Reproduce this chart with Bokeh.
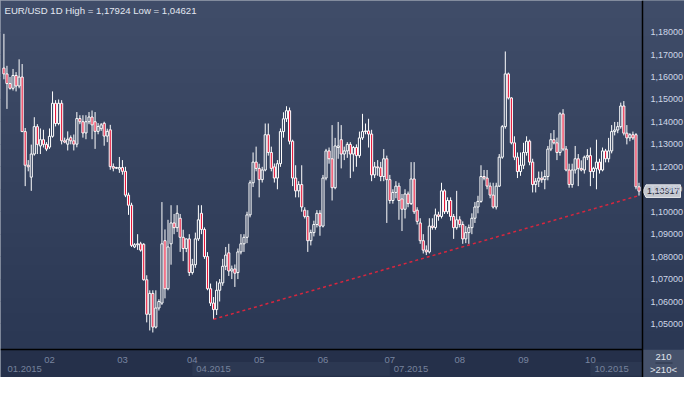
import numpy as np
from bokeh.plotting import figure
from bokeh.models import Range1d, FixedTicker, CustomJSTickFormatter
from bokeh.core.properties import value
from bokeh.embed import file_html
from bokeh.resources import INLINE

# ---------------- data (EUR/USD daily) ----------------
opens = [
    1.1640, 1.1614, 1.1571, 1.1550, 1.1607, 1.1560, 1.1600, 1.1357, 1.1207, 1.1154,
    1.1257, 1.1379, 1.1293, 1.1321, 1.1300, 1.1288, 1.1336, 1.1483, 1.1393, 1.1483,
    1.1316, 1.1301, 1.1330, 1.1316, 1.1301, 1.1415, 1.1401, 1.1351, 1.1401, 1.1422,
    1.1401, 1.1358, 1.1370, 1.1394, 1.1337, 1.1365, 1.1201, 1.1194, 1.1190, 1.1197,
    1.1180, 1.1074, 1.1029, 1.0843, 1.0853, 1.0857, 1.0855, 1.0697, 1.0543, 1.0636,
    1.0486, 1.0571, 1.0593, 1.0871, 1.0657, 1.0857, 1.0950, 1.0929, 1.0971, 1.0886,
    1.0836, 1.0879, 1.0729, 1.0764, 1.0879, 1.0993, 1.0921, 1.0800, 1.0657, 1.0593,
    1.0564, 1.0650, 1.0683, 1.0757, 1.0817, 1.0736, 1.0745, 1.0729, 1.0821, 1.0857,
    1.0886, 1.0986, 1.1129, 1.1221, 1.1193, 1.1143, 1.1186, 1.1343, 1.1264, 1.1200,
    1.1150, 1.1214, 1.1357, 1.1414, 1.1450, 1.1314, 1.1150, 1.1093, 1.1121, 1.1007,
    1.0979, 1.0871, 1.0907, 1.0943, 1.0993, 1.0936, 1.1150, 1.1271, 1.1236, 1.1107,
    1.1286, 1.1321, 1.1257, 1.1271, 1.1300, 1.1257, 1.1286, 1.1250, 1.1329, 1.1357,
    1.1360, 1.1346, 1.1164, 1.1200, 1.1196, 1.1157, 1.1236, 1.1143, 1.1050, 1.1086,
    1.1114, 1.1057, 1.1011, 1.1079, 1.1036, 1.1146, 1.1007, 1.0950, 1.0871, 1.0829,
    1.0821, 1.0936, 1.0930, 1.0986, 1.0979, 1.1093, 1.1000, 1.1050, 1.0979, 1.0929,
    1.0964, 1.0943, 1.0879, 1.0907, 1.0929, 1.0971, 1.1021, 1.1046, 1.1157, 1.1150,
    1.1114, 1.1074, 1.1021, 1.1114, 1.1243, 1.1379, 1.1614, 1.1507, 1.1307, 1.1243,
    1.1179, 1.1207, 1.1264, 1.1314, 1.1221, 1.1121, 1.1136, 1.1150, 1.1143, 1.1157,
    1.1279, 1.1321, 1.1307, 1.1264, 1.1436, 1.1279, 1.1186, 1.1121, 1.1186, 1.1236,
    1.1193, 1.1186, 1.1243, 1.1250, 1.1179, 1.1193, 1.1221, 1.1186, 1.1271, 1.1236,
    1.1271, 1.1357, 1.1364, 1.1379, 1.1471, 1.1350, 1.1329, 1.1343, 1.1343, 1.1111,
]
highs = [
    1.17924, 1.1650, 1.1600, 1.1636, 1.1622, 1.1679, 1.1658, 1.1373, 1.1230, 1.1299,
    1.1421, 1.1390, 1.1371, 1.1365, 1.1310, 1.1371, 1.1536, 1.1497, 1.1500, 1.1497,
    1.1330, 1.1358, 1.1340, 1.1344, 1.1444, 1.1430, 1.1430, 1.1430, 1.1444, 1.1451,
    1.1444, 1.1395, 1.1395, 1.1401, 1.1370, 1.1387, 1.1215, 1.1200, 1.1244, 1.1230,
    1.1200, 1.1085, 1.1040, 1.0860, 1.0900, 1.0866, 1.0860, 1.0717, 1.0650, 1.0650,
    1.0650, 1.0610, 1.1043, 1.0921, 1.0964, 1.1029, 1.0990, 1.1029, 1.0990, 1.0920,
    1.0880, 1.0900, 1.0790, 1.0907, 1.1029, 1.1029, 1.0930, 1.0820, 1.0680, 1.0620,
    1.0690, 1.0700, 1.0790, 1.0843, 1.0857, 1.0760, 1.0765, 1.0836, 1.0900, 1.0900,
    1.1000, 1.1140, 1.1264, 1.1290, 1.1214, 1.1200, 1.1393, 1.1393, 1.1290, 1.1215,
    1.1230, 1.1371, 1.1443, 1.1470, 1.1464, 1.1321, 1.1207, 1.1136, 1.1207, 1.1020,
    1.1007, 1.0920, 1.0960, 1.1007, 1.1007, 1.1164, 1.1280, 1.1286, 1.1386, 1.1329,
    1.1400, 1.1386, 1.1290, 1.1310, 1.1310, 1.1293, 1.1300, 1.1357, 1.1436, 1.1393,
    1.1414, 1.1365, 1.1222, 1.1230, 1.1222, 1.1279, 1.1250, 1.1164, 1.1100, 1.1136,
    1.1129, 1.1079, 1.1100, 1.1090, 1.1221, 1.1221, 1.1020, 1.0971, 1.0900, 1.0850,
    1.0971, 1.0971, 1.1014, 1.1000, 1.1129, 1.1100, 1.1064, 1.1064, 1.0990, 1.1093,
    1.0980, 1.0957, 1.0936, 1.0943, 1.0993, 1.1043, 1.1071, 1.1207, 1.1186, 1.1186,
    1.1130, 1.1129, 1.1129, 1.1257, 1.1386, 1.1714, 1.1620, 1.1510, 1.1336, 1.1264,
    1.1264, 1.1307, 1.1336, 1.1321, 1.1236, 1.1150, 1.1179, 1.1179, 1.1186, 1.1293,
    1.1350, 1.1364, 1.1330, 1.1443, 1.1457, 1.1293, 1.1214, 1.1214, 1.1293, 1.1257,
    1.1229, 1.1250, 1.1279, 1.1286, 1.1200, 1.1321, 1.1236, 1.1286, 1.1280, 1.1329,
    1.1386, 1.1400, 1.1400, 1.1486, 1.1493, 1.1386, 1.1350, 1.1357, 1.1350, 1.1129,
]
lows = [
    1.1590, 1.1458, 1.1544, 1.1540, 1.1536, 1.1550, 1.1355, 1.1114, 1.1180, 1.1093,
    1.1250, 1.1257, 1.1257, 1.1286, 1.1270, 1.1280, 1.1330, 1.1380, 1.1385, 1.1300,
    1.1305, 1.1273, 1.1300, 1.1273, 1.1287, 1.1390, 1.1330, 1.1323, 1.1390, 1.1323,
    1.1280, 1.1345, 1.1360, 1.1294, 1.1310, 1.1187, 1.1180, 1.1190, 1.1173, 1.1165,
    1.1065, 1.0986, 1.0843, 1.0838, 1.0830, 1.0822, 1.0693, 1.0507, 1.0471, 1.04621,
    1.0480, 1.0560, 1.0585, 1.0614, 1.0650, 1.0764, 1.0900, 1.0910, 1.0821, 1.0780,
    1.0820, 1.0714, 1.0720, 1.0750, 1.0870, 1.0900, 1.0790, 1.0650, 1.0580, 1.0521,
    1.0540, 1.0600, 1.0670, 1.0740, 1.0714, 1.0700, 1.0665, 1.0700, 1.0810, 1.0821,
    1.0860, 1.0975, 1.1110, 1.1180, 1.1064, 1.1130, 1.1180, 1.1250, 1.1180, 1.1130,
    1.1100, 1.1200, 1.1330, 1.1400, 1.1300, 1.1114, 1.1064, 1.1064, 1.1000, 1.0970,
    1.0821, 1.0850, 1.0890, 1.0930, 1.0893, 1.0930, 1.1140, 1.1214, 1.1050, 1.1100,
    1.1236, 1.1193, 1.1230, 1.1240, 1.1150, 1.1179, 1.1200, 1.1240, 1.1320, 1.1345,
    1.1286, 1.1136, 1.1150, 1.1160, 1.1136, 1.1136, 1.0950, 1.1036, 1.1036, 1.1060,
    1.0964, 1.0914, 1.0970, 1.1020, 1.1030, 1.0990, 1.0943, 1.0857, 1.0814, 1.0807,
    1.0814, 1.0920, 1.0920, 1.0960, 1.0970, 1.0990, 1.0990, 1.0960, 1.0879, 1.0920,
    1.0930, 1.0857, 1.0860, 1.0857, 1.0900, 1.0950, 1.0993, 1.1040, 1.1140, 1.1100,
    1.1060, 1.1014, 1.1010, 1.1110, 1.1236, 1.1370, 1.1500, 1.1300, 1.1230, 1.1150,
    1.1160, 1.1190, 1.1250, 1.1207, 1.1086, 1.1086, 1.1110, 1.1129, 1.1100, 1.1140,
    1.1270, 1.1300, 1.1230, 1.1250, 1.1270, 1.1180, 1.1107, 1.1107, 1.1170, 1.1114,
    1.1180, 1.1170, 1.1230, 1.1114, 1.1150, 1.1100, 1.1170, 1.1180, 1.1220, 1.1220,
    1.1260, 1.1340, 1.1350, 1.1370, 1.1340, 1.1300, 1.1314, 1.1320, 1.1100, 1.1072,
]
closes = [
    1.1614, 1.1571, 1.1550, 1.1607, 1.1560, 1.1600, 1.1357, 1.1207, 1.1200, 1.1257,
    1.1379, 1.1300, 1.1321, 1.1300, 1.1279, 1.1336, 1.1483, 1.1393, 1.1483, 1.1316,
    1.1310, 1.1323, 1.1316, 1.1301, 1.1415, 1.1401, 1.1351, 1.1401, 1.1422, 1.1387,
    1.1358, 1.1380, 1.1387, 1.1337, 1.1358, 1.1201, 1.1194, 1.1197, 1.1197, 1.1180,
    1.1074, 1.1029, 1.0850, 1.0853, 1.0857, 1.0829, 1.0697, 1.0543, 1.0636, 1.0486,
    1.0571, 1.0600, 1.0857, 1.0657, 1.0843, 1.0950, 1.0929, 1.0993, 1.0886, 1.0836,
    1.0879, 1.0729, 1.0764, 1.0879, 1.0964, 1.0921, 1.0800, 1.0657, 1.0593, 1.0564,
    1.0650, 1.0683, 1.0757, 1.0807, 1.0736, 1.0745, 1.0726, 1.0821, 1.0857, 1.0886,
    1.0986, 1.1129, 1.1221, 1.1193, 1.1143, 1.1186, 1.1343, 1.1264, 1.1193, 1.1150,
    1.1214, 1.1357, 1.1414, 1.1450, 1.1314, 1.1150, 1.1093, 1.1121, 1.1021, 1.0979,
    1.0871, 1.0907, 1.0943, 1.0993, 1.0936, 1.1150, 1.1271, 1.1236, 1.1107, 1.1293,
    1.1293, 1.1257, 1.1271, 1.1300, 1.1257, 1.1286, 1.1250, 1.1329, 1.1357, 1.1360,
    1.1346, 1.1164, 1.1200, 1.1196, 1.1157, 1.1236, 1.1143, 1.1050, 1.1086, 1.1114,
    1.1050, 1.1011, 1.1079, 1.1036, 1.1146, 1.1000, 1.0957, 1.0871, 1.0829, 1.0821,
    1.0936, 1.0930, 1.0986, 1.0979, 1.1093, 1.1000, 1.1050, 1.0979, 1.0929, 1.0964,
    1.0943, 1.0879, 1.0907, 1.0929, 1.0971, 1.1021, 1.1046, 1.1157, 1.1150, 1.1114,
    1.1074, 1.1021, 1.1114, 1.1243, 1.1379, 1.1614, 1.1507, 1.1307, 1.1243, 1.1179,
    1.1207, 1.1264, 1.1314, 1.1221, 1.1121, 1.1136, 1.1150, 1.1143, 1.1157, 1.1279,
    1.1321, 1.1307, 1.1264, 1.1436, 1.1279, 1.1186, 1.1121, 1.1186, 1.1236, 1.1193,
    1.1186, 1.1243, 1.1250, 1.1179, 1.1193, 1.1221, 1.1186, 1.1271, 1.1236, 1.1271,
    1.1357, 1.1364, 1.1379, 1.1471, 1.1350, 1.1329, 1.1343, 1.1329, 1.1111, 1.10917,
]

month_ticks = [15, 39, 62, 84, 105, 127, 150, 171, 193]
month_labels = ["02", "03", "04", "05", "06", "07", "08", "09", "10"]
quarter_starts = [-0.16, 62, 127, 193]
quarter_labels = ["01.2015", "04.2015", "07.2015", "10.2015"]
price_ticks = [1.05, 1.06, 1.07, 1.08, 1.09, 1.10, 1.11, 1.12, 1.13,
               1.14, 1.15, 1.16, 1.17, 1.18]
title_text = "EUR/USD 1D High = 1,17924 Low = 1,04621"
last_price_text = "1,10917"
bars_text = "210"
bars_text2 = ">210<"
trend_idx = [69, 209]  # the trend line joins the lows of these two candles

# ---------------- layout constants (pixels -> data) ----------------
W, H = 684, 377
XR0, XR1 = -1.125, 223.97
YR0, YR1 = 1.02615, 1.19410
KX = (XR1 - XR0) / W
KY = (YR1 - YR0) / H


def px_x(px):
    return XR0 + px * KX


def px_y(py):  # py measured from the top edge
    return YR1 - py * KY


X_SEP = px_x(642)      # right-hand price panel separator
Y_SEP = px_y(349.2)    # bottom time panel separator
FONT = "Liberation Sans"

p = figure(width=W, height=H, output_backend="svg", toolbar_location=None,
           x_range=Range1d(XR0, XR1), y_range=Range1d(YR0, YR1),
           y_axis_location="right", min_border=0)
p.min_border_left = p.min_border_right = p.min_border_top = p.min_border_bottom = 0
p.background_fill_color = "#34405b"
p.border_fill_color = "#34405b"
p.outline_line_color = "#9aa2b1"
p.outline_line_width = 2

# vertical gradient used for the chart and price panel backgrounds
ny = 96
img = np.empty((ny, 1), dtype=np.uint32)
v = img.view(dtype=np.uint8).reshape((ny, 1, 4))
bot = np.array([43, 56, 84])
top = np.array([64, 77, 105])
for k in range(ny):
    c = bot + (top - bot) * k / (ny - 1)
    v[k, 0, 0:3] = c.astype(np.uint8)
    v[k, 0, 3] = 255
p.image_rgba(image=[img], x=XR0, y=Y_SEP, dw=XR1 - XR0, dh=YR1 - Y_SEP)

# grids
p.xgrid.ticker = FixedTicker(ticks=month_ticks)
p.ygrid.ticker = FixedTicker(ticks=price_ticks)
for g in (p.xgrid, p.ygrid):
    g.grid_line_color = "#5d6a86"
    g.grid_line_dash = "3 3"
    g.grid_line_width = 1

# price panel background (covers the grid there)
p.image_rgba(image=[img], x=X_SEP, y=Y_SEP, dw=XR1 - X_SEP, dh=YR1 - Y_SEP,
             level="glyph")
# time panel strip
p.quad(left=XR0, right=X_SEP, bottom=YR0, top=Y_SEP, fill_color="#25304a",
       line_color=None)
q_ends = quarter_starts[1:] + [X_SEP]
for i, (qs, qe) in enumerate(zip(quarter_starts, q_ends)):
    if i % 2 == 1:
        p.quad(left=qs, right=qe, bottom=px_y(375.2), top=px_y(361.5),
               fill_color="#2c3852", line_color=None)
p.text(x=[qs + 4 * KX for qs in quarter_starts], y=[px_y(368)] * 4,
       text=quarter_labels, text_font=value(FONT), text_font_size="9.5px",
       text_color="#76829c", text_baseline="middle", text_align="left")

# bars counter box
p.quad(left=X_SEP, right=XR1, bottom=YR0, top=Y_SEP, fill_color="#46526b",
       line_color=None)
p.segment(x0=px_x(655), y0=px_y(362.5), x1=px_x(672), y1=px_y(362.5),
          line_color="#2b344a", line_width=1)
p.text(x=[px_x(663), px_x(663)], y=[px_y(356.5), px_y(368.5)],
       text=[bars_text, bars_text2], text_font=value(FONT),
       text_font_size="9.5px", text_color="#e2e6ee", text_align="center",
       text_baseline="middle")

# candles
wick_top = [max(o, c) for o, c in zip(opens, closes)]
wick_bot = [min(o, c) for o, c in zip(opens, closes)]
colors = ["#e8173a" if c < o else "rgba(0,0,0,0)" for o, c in zip(opens, closes)]
idx = list(range(len(opens)))
p.segment(x0=idx, y0=highs, x1=idx, y1=wick_top, line_color="#ffffff",
          line_width=1)
p.segment(x0=idx, y0=lows, x1=idx, y1=wick_bot, line_color="#ffffff",
          line_width=1)
p.vbar(x=idx, width=0.7, top=wick_top, bottom=wick_bot, fill_color=colors,
       line_color="#ffffff", line_width=1)

# trend line through two lows
p.line([trend_idx[0], trend_idx[1]], [lows[trend_idx[0]], lows[trend_idx[1]]],
       line_color="#d8263e", line_dash="3 3", line_width=1.5)

# title
p.text(x=[px_x(4)], y=[px_y(4)], text=[title_text], text_font=value(FONT),
       text_font_size="9.6px", text_color="#e3e8f1", text_baseline="top",
       text_align="left")

# last price tag
yc = closes[-1]
hh = 6.3 * KY
p.patch(x=[px_x(642.5), px_x(645.5), px_x(680), px_x(680), px_x(645.5)],
        y=[yc, yc + hh, yc + hh, yc - hh, yc - hh],
        fill_color="#c3c7cf", line_color="#e6e8ec", line_width=1)
p.text(x=[px_x(646.5)], y=[yc], text=[last_price_text], text_font=value(FONT),
       text_font_size="9px", text_color="#1e2638", text_baseline="middle",
       text_align="left")

# right price axis, pinned to the panel separator
p.yaxis.fixed_location = X_SEP
p.yaxis.ticker = FixedTicker(ticks=price_ticks)
p.yaxis.formatter = CustomJSTickFormatter(
    code="return tick.toFixed(5).replace('.', ',');")
p.yaxis.major_tick_line_color = None
p.yaxis.minor_tick_line_color = None
p.yaxis.axis_line_color = "#000000"
p.yaxis.axis_line_width = 1.5
p.yaxis.major_label_text_color = "#ced7e7"
p.yaxis.major_label_text_font = FONT
p.yaxis.major_label_text_font_size = "9px"
p.yaxis.major_label_standoff = 2

# bottom month axis, pinned to the time panel separator
p.xaxis.fixed_location = Y_SEP
p.xaxis.bounds = (XR0, X_SEP)
p.xaxis.ticker = FixedTicker(ticks=month_ticks)
p.xaxis.major_label_overrides = {t: s for t, s in zip(month_ticks, month_labels)}
p.xaxis.major_tick_line_color = None
p.xaxis.minor_tick_line_color = None
p.xaxis.axis_line_color = "#000000"
p.xaxis.axis_line_width = 1.5
p.xaxis.major_label_text_color = "#7985a0"
p.xaxis.major_label_text_font = FONT
p.xaxis.major_label_text_font_size = "9.5px"
p.xaxis.major_label_standoff = 1

open("out.html", "w").write(file_html(p, INLINE))
